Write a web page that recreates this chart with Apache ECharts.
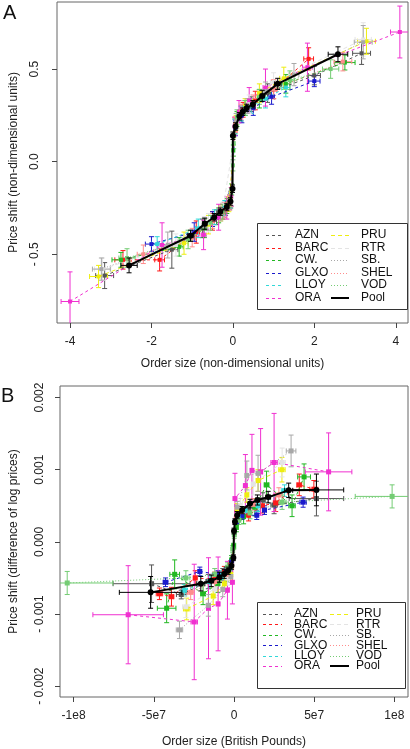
<!DOCTYPE html>
<html><head><meta charset="utf-8">
<script src="https://cdn.jsdelivr.net/npm/echarts@6/dist/echarts.min.js"></script>
<style>html,body{margin:0;padding:0;background:#fff}#c{width:410px;height:749px}</style>
</head><body><div id="c"></div>
<script>
// ---------- names / styles ----------
const stockNames = ['AZN','BARC','CW.','GLXO','LLOY','ORA','PRU','RTR','SB.','SHEL','VOD','Pool'];

// ---------- Panel A: [order size, price shift, x error, y error] (non-dimensional) ----------
const aAZN  = [[-3.15,-0.615,0.22,0.07],[-1.5,-0.475,0.15,0.1],[-0.75,-0.36,0.06,0.05],[-0.4,-0.3,0.04,0.04],[-0.18,-0.25,0.02,0.04],[-0.05,-0.2,0.01,0.04],[0.05,0.19,0.01,0.04],[0.2,0.26,0.02,0.04],[0.45,0.31,0.04,0.04],[0.85,0.37,0.07,0.05],[2.0,0.465,0.15,0.05],[3.16,0.585,0.22,0.06]];
const aBARC = [[-2.7,-0.53,0.2,0.05],[-1.8,-0.53,0.12,0.06],[-0.9,-0.38,0.08,0.06],[-0.5,-0.32,0.04,0.05],[-0.25,-0.27,0.02,0.04],[-0.08,-0.22,0.01,0.04],[0.06,0.2,0.01,0.04],[0.25,0.28,0.02,0.04],[0.55,0.33,0.05,0.05],[1.0,0.39,0.08,0.05],[1.86,0.555,0.12,0.06]];
const aCW   = [[-2.75,-0.53,0.22,0.04],[-1.32,-0.46,0.1,0.05],[-0.7,-0.36,0.06,0.05],[-0.35,-0.29,0.03,0.04],[-0.15,-0.24,0.02,0.04],[-0.03,-0.15,0.005,0.03],[0.01,0.06,0.005,0.03],[0.1,0.23,0.01,0.04],[0.3,0.29,0.03,0.04],[0.65,0.34,0.05,0.05],[1.3,0.42,0.1,0.05],[2.75,0.535,0.25,0.04]];
const aGLXO = [[-2.0,-0.445,0.15,0.04],[-0.95,-0.38,0.08,0.05],[-0.5,-0.31,0.04,0.04],[-0.22,-0.26,0.02,0.04],[-0.06,-0.21,0.01,0.04],[0.06,0.18,0.01,0.04],[0.22,0.25,0.02,0.04],[0.5,0.29,0.04,0.04],[0.95,0.35,0.07,0.04],[2.0,0.435,0.14,0.03]];
const aLLOY = [[-1.86,-0.445,0.14,0.04],[-0.85,-0.36,0.07,0.05],[-0.45,-0.3,0.04,0.04],[-0.2,-0.25,0.02,0.04],[-0.05,-0.2,0.01,0.04],[0.05,0.19,0.01,0.04],[0.2,0.26,0.02,0.04],[0.45,0.3,0.04,0.04],[0.8,0.34,0.06,0.05],[1.3,0.4,0.1,0.05]];
const aORA  = [[-4.0,-0.755,0.22,0.16],[-1.74,-0.45,0.12,0.12],[-0.72,-0.395,0.06,0.08],[-0.35,-0.3,0.03,0.07],[-0.15,-0.25,0.015,0.06],[-0.04,-0.19,0.005,0.05],[0.04,0.19,0.005,0.05],[0.15,0.27,0.015,0.06],[0.4,0.33,0.03,0.07],[0.8,0.4,0.06,0.1],[1.83,0.51,0.12,0.13],[4.1,0.7,0.23,0.14]];
const aPRU  = [[-3.3,-0.62,0.22,0.06],[-1.2,-0.44,0.1,0.06],[-0.6,-0.34,0.05,0.05],[-0.3,-0.28,0.03,0.04],[-0.1,-0.23,0.01,0.04],[0.08,0.21,0.01,0.04],[0.3,0.3,0.03,0.04],[0.65,0.37,0.05,0.05],[1.25,0.45,0.1,0.06],[3.28,0.65,0.22,0.07]];
const aRTR  = [[-3.2,-0.58,0.2,0.06],[-1.4,-0.45,0.1,0.06],[-0.6,-0.33,0.05,0.05],[-0.25,-0.26,0.02,0.04],[0.1,0.22,0.01,0.04],[0.4,0.31,0.04,0.05],[1.0,0.43,0.08,0.05],[3.2,0.66,0.2,0.09]];
const aSB   = [[-3.23,-0.58,0.22,0.06],[-1.6,-0.45,0.12,0.07],[-0.7,-0.35,0.06,0.05],[-0.3,-0.28,0.03,0.04],[-0.08,-0.22,0.01,0.04],[0.08,0.22,0.01,0.04],[0.35,0.3,0.03,0.04],[0.8,0.38,0.06,0.05],[1.5,0.47,0.12,0.06],[3.2,0.645,0.22,0.09]];
const aSHEL = [[-2.2,-0.5,0.15,0.05],[-1.0,-0.41,0.08,0.05],[-0.5,-0.32,0.04,0.04],[-0.2,-0.26,0.02,0.04],[-0.05,-0.2,0.01,0.04],[0.05,0.2,0.01,0.04],[0.2,0.27,0.02,0.04],[0.5,0.32,0.04,0.04],[1.0,0.39,0.08,0.05],[2.7,0.54,0.22,0.05]];
const aVOD  = [[-2.6,-0.52,0.2,0.05],[-1.1,-0.42,0.09,0.05],[-0.55,-0.33,0.05,0.04],[-0.25,-0.27,0.02,0.04],[-0.05,-0.21,0.005,0.04],[0.0,-0.02,0.003,0.03],[0.02,0.1,0.003,0.03],[0.1,0.24,0.01,0.04],[0.3,0.29,0.03,0.04],[0.65,0.35,0.05,0.04],[1.4,0.44,0.11,0.05],[2.4,0.5,0.2,0.05]];
const aPool = [[-2.55,-0.56,0.2,0.04],[-1.04,-0.4,0.08,0.03],[-0.69,-0.335,0.05,0.03],[-0.46,-0.3,0.03,0.02],[-0.31,-0.27,0.02,0.02],[-0.15,-0.245,0.01,0.02],[-0.06,-0.215,0.005,0.02],[-0.01,-0.146,0.002,0.02],[0.0,0.14,0.002,0.02],[0.065,0.19,0.005,0.02],[0.16,0.245,0.01,0.02],[0.24,0.27,0.015,0.02],[0.34,0.29,0.02,0.02],[0.49,0.31,0.03,0.02],[0.72,0.355,0.05,0.03],[1.1,0.42,0.08,0.03],[2.58,0.58,0.24,0.04]];

// ---------- Panel B: [order size (GBP), price shift (log diff), x error, y error] ----------
const bAZN  = [[-5.14e7,-0.00058,2.4e7,0.00026],[-3.29e7,-0.00073,0.3e7,0.00006],[-1.6e7,-0.00055,0.15e7,0.0001],[-0.7e7,-0.00045,0.07e7,0.00008],[-0.25e7,-0.00036,0.03e7,0.00006],[0.3e7,0.00038,0.03e7,0.00006],[0.9e7,0.00047,0.08e7,0.00008],[1.8e7,0.00058,0.15e7,0.0001],[2.5e7,0.00051,0.2e7,0.00012],[5.14e7,0.0006,1.7e7,0.00024]];
const bBARC = [[-4.65e7,-0.00072,0.2e7,0.00008],[-3.9e7,-0.00076,0.15e7,0.00013],[-2.42e7,-0.0005,0.1e7,0.0001],[-1.2e7,-0.00052,0.08e7,0.0001],[-0.6e7,-0.00042,0.05e7,0.00008],[-0.2e7,-0.00032,0.02e7,0.00006],[0.2e7,0.0003,0.02e7,0.00006],[0.91e7,0.00037,0.06e7,0.00008],[1.77e7,0.0005,0.12e7,0.0001],[2.6e7,0.00054,0.15e7,0.00012],[4.07e7,0.00079,0.15e7,0.00015],[4.98e7,0.00073,0.25e7,0.00012]];
const bCW   = [[-4.2e7,-0.00092,0.58e7,0.0002],[-3.7e7,-0.00045,0.3e7,0.0002],[-1.93e7,-0.00072,0.15e7,0.00015],[-1.0e7,-0.00058,0.08e7,0.00012],[-0.5e7,-0.00045,0.04e7,0.0001],[-0.15e7,-0.00025,0.01e7,0.00006],[-0.02e7,-0.00006,0.003e7,0.00004],[0.15e7,0.0002,0.01e7,0.00006],[0.6e7,0.00035,0.05e7,0.0001],[1.3e7,0.00048,0.1e7,0.00012],[2.03e7,0.00079,0.15e7,0.00019],[3.62e7,0.0005,0.2e7,0.00015],[4.37e7,0.0009,0.4e7,0.00018]];
const bGLXO = [[-4.27e7,-0.00056,0.15e7,0.00006],[-2.13e7,-0.00041,0.1e7,0.00006],[-1.0e7,-0.00045,0.06e7,0.00005],[-0.45e7,-0.0004,0.03e7,0.00005],[-0.15e7,-0.00028,0.01e7,0.00004],[0.15e7,0.00028,0.01e7,0.00004],[0.5e7,0.00036,0.04e7,0.00005],[1.42e7,0.00037,0.08e7,0.00006],[1.9e7,0.00044,0.12e7,0.00006],[4.31e7,0.00055,0.2e7,0.00007]];
const bLLOY = [[-3.1e7,-0.00067,0.2e7,0.00008],[-1.5e7,-0.00055,0.1e7,0.00008],[-0.7e7,-0.00046,0.05e7,0.00006],[-0.25e7,-0.00036,0.02e7,0.00005],[0.25e7,0.00035,0.02e7,0.00005],[0.7e7,0.00043,0.05e7,0.00006],[1.5e7,0.0005,0.1e7,0.00008],[3.15e7,0.00071,0.2e7,0.00008]];
const bORA  = [[-6.6e7,-0.00101,2.2e7,0.00068],[-2.48e7,-0.00111,0.2e7,0.0008],[-1.59e7,-0.00092,0.12e7,0.0007],[-0.99e7,-0.00086,0.08e7,0.00065],[-0.41e7,-0.00067,0.03e7,0.0004],[-0.1e7,-0.00056,0.01e7,0.0003],[0.06e7,0.0006,0.01e7,0.00035],[0.71e7,0.00078,0.05e7,0.00043],[1.12e7,0.00099,0.08e7,0.0005],[1.66e7,0.00097,0.12e7,0.0006],[2.5e7,0.0011,0.2e7,0.00068],[5.9e7,0.00097,1.45e7,0.00054]];
const bPRU  = [[-2.95e7,-0.00093,0.2e7,0.00015],[-1.3e7,-0.00075,0.1e7,0.00012],[-0.6e7,-0.00058,0.05e7,0.0001],[-0.2e7,-0.00045,0.02e7,0.00008],[0.2e7,0.00045,0.02e7,0.00008],[0.8e7,0.00065,0.06e7,0.0001],[1.5e7,0.00085,0.1e7,0.00015],[2.99e7,0.001,0.2e7,0.00017]];
const bRTR  = [[-3.0e7,-0.0009,0.2e7,0.00015],[-1.2e7,-0.00065,0.1e7,0.00012],[-0.4e7,-0.0005,0.04e7,0.0001],[0.4e7,0.0005,0.04e7,0.0001],[1.2e7,0.0008,0.1e7,0.00015],[3.0e7,0.0011,0.2e7,0.0002]];
const bSB   = [[-3.4e7,-0.00122,0.2e7,0.00012],[-1.6e7,-0.00088,0.12e7,0.00015],[-0.7e7,-0.00066,0.05e7,0.0001],[-0.2e7,-0.00048,0.02e7,0.00008],[0.2e7,0.00048,0.02e7,0.00008],[0.8e7,0.00092,0.06e7,0.0002],[1.5e7,0.00095,0.1e7,0.00025],[3.56e7,0.00126,0.3e7,0.00022]];
const bSHEL = [[-2.7e7,-0.0007,0.2e7,0.0001],[-1.2e7,-0.00055,0.1e7,0.00008],[-0.5e7,-0.00045,0.04e7,0.00006],[-0.15e7,-0.00033,0.01e7,0.00005],[0.15e7,0.00032,0.01e7,0.00005],[0.5e7,0.00042,0.04e7,0.00006],[1.2e7,0.00052,0.1e7,0.00008],[2.8e7,0.00065,0.2e7,0.0001]];
const bVOD  = [[-10.4e7,-0.00057,2.85e7,0.00016],[-3.0e7,-0.0005,0.25e7,0.0001],[-1.2e7,-0.00045,0.1e7,0.00008],[-0.4e7,-0.00035,0.03e7,0.00006],[-0.08e7,-0.0001,0.005e7,0.00005],[0.02e7,0.0001,0.005e7,0.00005],[0.3e7,0.0003,0.03e7,0.00006],[1.0e7,0.0004,0.08e7,0.00008],[3.0e7,0.00055,0.25e7,0.0001],[9.86e7,0.00063,2.3e7,0.00016]];
const bPool = [[-5.2e7,-0.0007,1.95e7,0.00022],[-2.07e7,-0.00058,0.25e7,0.0001],[-1.42e7,-0.00054,0.15e7,0.00008],[-0.91e7,-0.00049,0.1e7,0.00007],[-0.61e7,-0.000446,0.06e7,0.00006],[-0.37e7,-0.0004,0.04e7,0.00005],[-0.16e7,-0.00033,0.02e7,0.00005],[-0.04e7,-0.00022,0.005e7,0.00004],[0.0,0.00015,0.002e7,0.00004],[0.06e7,0.00028,0.006e7,0.00004],[0.2e7,0.00037,0.02e7,0.00005],[0.51e7,0.00044,0.04e7,0.00005],[1.0e7,0.00053,0.08e7,0.00006],[1.46e7,0.00058,0.1e7,0.00007],[2.13e7,0.00062,0.15e7,0.00008],[3.41e7,0.000714,0.25e7,0.0001],[5.14e7,0.00072,1.7e7,0.00022]];

// ---------- ticks ----------
const xTicksA = [-4,-2,0,2,4];
const xTickLabelsA = ['-4','-2','0','2','4'];
const yTicksA = [-0.5,0,0.5];
const yTickLabelsA = ['- 0.5','0.0','0.5'];
const xTicksB = [-1e8,-5e7,0,5e7,1e8];
const xTickLabelsB = ['-1e8','-5e7','0','5e7','1e8'];
const yTicksB = [-0.002,-0.001,0,0.001,0.002];
const yTickLabelsB = ['- 0.002','- 0.001','0.000','0.001','0.002'];

// ---------- build ----------
const panelA = [aAZN,aBARC,aCW,aGLXO,aLLOY,aORA,aPRU,aRTR,aSB,aSHEL,aVOD,aPool];
const panelB = [bAZN,bBARC,bCW,bGLXO,bLLOY,bORA,bPRU,bRTR,bSB,bSHEL,bVOD,bPool];
const colors = ['#555555','#ff1a1a','#22b822','#1a1acc','#30d8d8','#f030d0','#eeee10','#e4e4e4','#a8a8a8','#ff8c8c','#74cc74','#000000'];
const dashes = [[3,3],[3,3],[3,3],[3,3],[3,3],[3,3],[4,3],[4,3],[1,2],[1,2],[1,2],null];

const FONT = 'Liberation Sans, Arial, Helvetica, sans-serif';

function errBar(color){
  return function(params, api){
    const x=api.value(0), y=api.value(1), xe=api.value(2), ye=api.value(3);
    const L=api.coord([x-xe,y]), R=api.coord([x+xe,y]), T=api.coord([x,y+ye]), B=api.coord([x,y-ye]);
    const st={stroke:color,lineWidth:1}; const c=2.5;
    return {type:'group',children:[
      {type:'line',shape:{x1:L[0],y1:L[1],x2:R[0],y2:R[1]},style:st},
      {type:'line',shape:{x1:L[0],y1:L[1]-c,x2:L[0],y2:L[1]+c},style:st},
      {type:'line',shape:{x1:R[0],y1:R[1]-c,x2:R[0],y2:R[1]+c},style:st},
      {type:'line',shape:{x1:T[0],y1:T[1],x2:B[0],y2:B[1]},style:st},
      {type:'line',shape:{x1:T[0]-c,y1:T[1],x2:T[0]+c,y2:T[1]},style:st},
      {type:'line',shape:{x1:B[0]-c,y1:B[1],x2:B[0]+c,y2:B[1]},style:st}
    ]};
  };
}

const series = [];
function addPanel(data, idx, symA, symPool){
  data.forEach((pts, i) => {
    const isPool = i === data.length - 1;
    series.push({
      type:'custom', xAxisIndex:idx, yAxisIndex:idx, renderItem: errBar(colors[i]),
      data: pts, encode:{x:0,y:1}, clip:true, silent:true, z: isPool?5:2
    });
    series.push({
      type:'line', xAxisIndex:idx, yAxisIndex:idx, data: pts.map(p=>[p[0],p[1]]),
      symbol: isPool?'circle':'rect', symbolSize: isPool?symPool:symA, showSymbol:true,
      itemStyle:{color:colors[i]},
      lineStyle:{color:colors[i], width: isPool?2:1, type: isPool?'solid':dashes[i]},
      clip:true, silent:true, z: isPool?6:3, animation:false
    });
  });
}
addPanel(panelA, 0, 4, 6);
addPanel(panelB, 1, 5, 6);

function fmt(ticks, labels){ return v => { const k = ticks.findIndex(t => Math.abs(t - v) <= Math.abs(t)*1e-9 + 1e-12); return k>=0?labels[k]:''; }; }

const axisCommon = {
  splitLine:{show:false}, axisLine:{show:false, onZero:false},
  axisTick:{show:true, inside:false, length:5, lineStyle:{color:'#444'}},
  axisLabel:{color:'#222', fontSize:12, fontFamily:FONT},
  nameTextStyle:{color:'#222', fontSize:12, fontFamily:FONT}
};

const option = {
  animation:false,
  backgroundColor:'#fff',
  grid:[
    {left:50, top:2, width:358, height:321, show:true, borderColor:'#666', borderWidth:1, containLabel:false},
    {left:53, top:386, width:355, height:316, show:true, borderColor:'#666', borderWidth:1, containLabel:false}
  ],
  xAxis:[
    Object.assign({}, axisCommon, {type:'value', gridIndex:0, min:-4.32, max:4.3,
      name:'Order size (non-dimensional units)', nameLocation:'middle', nameGap:35,
      axisTick:Object.assign({}, axisCommon.axisTick, {customValues:xTicksA}),
      axisLabel:Object.assign({}, axisCommon.axisLabel, {customValues:xTicksA, formatter:fmt(xTicksA,xTickLabelsA), margin:13})}),
    Object.assign({}, axisCommon, {type:'value', gridIndex:1, min:-1.085e8, max:1.085e8,
      name:'Order size (British Pounds)', nameLocation:'middle', nameGap:39,
      axisTick:Object.assign({}, axisCommon.axisTick, {customValues:xTicksB}),
      axisLabel:Object.assign({}, axisCommon.axisLabel, {customValues:xTicksB, formatter:fmt(xTicksB,xTickLabelsB), margin:13})})
  ],
  yAxis:[
    Object.assign({}, axisCommon, {type:'value', gridIndex:0, min:-0.871, max:0.862,
      name:'Price shift (non-dimensional units)', nameLocation:'middle', nameGap:37,
      axisTick:Object.assign({}, axisCommon.axisTick, {customValues:yTicksA}),
      axisLabel:Object.assign({}, axisCommon.axisLabel, {customValues:yTicksA, formatter:fmt(yTicksA,yTickLabelsA), rotate:90, margin:16})}),
    Object.assign({}, axisCommon, {type:'value', gridIndex:1, min:-0.00215, max:0.00216,
      name:'Price shift (difference of log prices)', nameLocation:'middle', nameGap:40,
      axisTick:Object.assign({}, axisCommon.axisTick, {customValues:yTicksB}),
      axisLabel:Object.assign({}, axisCommon.axisLabel, {customValues:yTicksB, formatter:fmt(yTicksB,yTickLabelsB), rotate:90, margin:14})})
  ],
  series: series,
  graphic: []
};

// legends drawn as graphic elements
function legend(box, y0, step, lineX, textX, lineW){
  const els = [{type:'rect', shape:{x:box[0]+0.5, y:box[1]+0.5, width:box[2], height:box[3]}, style:{fill:'#fff', stroke:'#333', lineWidth:1}, z:100}];
  stockNames.forEach((nm, i) => {
    const col = i < 6 ? 0 : 1, row = i % 6;
    const y = y0 + row*step;
    const ly = Math.round(y) + 0.5;
    const isPool = i === stockNames.length-1;
    els.push({type:'line', shape:{x1:lineX[col], y1:isPool?Math.round(y):ly, x2:lineX[col]+lineW, y2:isPool?Math.round(y):ly},
      style:{stroke:colors[i], lineWidth:isPool?2:1, lineDash: isPool?null:dashes[i]}, z:101});
    els.push({type:'text', x:textX[col], y:y, style:{text:nm, fill:'#111', font:'12px '+FONT, textVerticalAlign:'middle'}, z:101});
  });
  return els;
}
option.graphic = [].concat(
  legend([257,223,150,86], 235, 12.5, [266,331], [295,361], 18),
  legend([257,602,148,86], 614, 10.4, [263,330], [294,356], 19),
  [
    {type:'text', x:3, y:3, style:{text:'A', fill:'#111', font:'20px '+FONT}, z:101},
    {type:'text', x:1, y:386, style:{text:'B', fill:'#111', font:'20px '+FONT}, z:101}
  ]
);

const chart = echarts.init(document.getElementById('c'), null, {renderer:'canvas'});
chart.setOption(option);
</script>
</body></html>
